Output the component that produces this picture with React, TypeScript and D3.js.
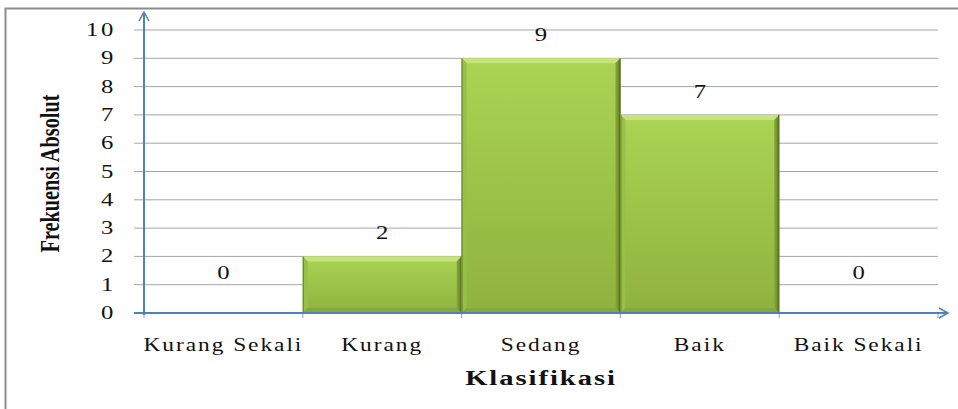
import React from 'react'
import * as d3 from 'd3'

const categories = ['Kurang Sekali', 'Kurang', 'Sedang', 'Baik', 'Baik Sekali']
const frequencies = [0, 2, 9, 7, 0]
const yTicks = [0, 1, 2, 3, 4, 5, 6, 7, 8, 9, 10]

const W = 958
const H = 409
const margin = { left: 144, right: 20, top: 30, bottom: 96 }
const serif = '"Liberation Serif", "Times New Roman", serif'

// stretched text, like the reference picture (it was widened)
function SText(props: { x: number; y: number; sx?: number; anchor?: string; size: number; bold?: boolean; ls?: number; children: React.ReactNode }) {
    const sx = props.sx ?? 1.3
    return (
        <text transform={`translate(${props.x}, ${props.y}) scale(${sx}, 1)`} textAnchor={props.anchor ?? 'middle'}
            fontFamily={serif} fontSize={props.size} fontWeight={props.bold ? 'bold' : 'normal'}
            letterSpacing={props.ls ?? 0} fill="#111">{props.children}</text>
    )
}

export default function App() {
    const x = d3.scaleBand<string>()
        .domain(categories)
        .range([margin.left, W - margin.right])
        .padding(0)

    const y = d3.scaleLinear()
        .domain([0, 10])
        .range([H - margin.bottom, margin.top])

    const x0 = margin.left
    const x1 = W - margin.right
    const y0 = y(0)
    const bev = 5

    return (
        <svg width={W} height={H} style={{ position: 'absolute', left: 0, top: 0, background: '#fff' }}>
            <defs>
                <linearGradient id="barFill" x1="0" y1="0" x2="0" y2="1">
                    <stop offset="0%" stopColor="#aad453" />
                    <stop offset="100%" stopColor="#8fb23f" />
                </linearGradient>
                <linearGradient id="rightEdge" x1="0" y1="0" x2="1" y2="0">
                    <stop offset="0%" stopColor="#88aa3a" />
                    <stop offset="100%" stopColor="#5f7b24" />
                </linearGradient>
                <marker id="arrow" viewBox="0 0 12 12" refX="10" refY="6" markerWidth="12" markerHeight="12" orient="auto" markerUnits="userSpaceOnUse">
                    <path d="M1,1 L10,6 L1,11" fill="none" stroke="#4f81bd" strokeWidth={1.5} />
                </marker>
            </defs>

            {/* outer frame */}
            <rect x={5.5} y={8.5} width={W + 10} height={H + 10} fill="none" stroke="#8c8c8c" strokeWidth={2} />

            {/* gridlines */}
            {yTicks.filter(t => t > 0).map(t => (
                <line key={t} x1={x0 - 10} x2={x1} y1={y(t)} y2={y(t)} stroke="#a6a6a6" strokeWidth={1} />
            ))}

            {/* bars */}
            {frequencies.map((v, i) => {
                if (v <= 0) return null
                const bx = x(categories[i])!
                const bw = x.bandwidth()
                const by = y(v)
                const bh = y0 - by
                return (
                    <g key={categories[i]}>
                        <rect x={bx} y={by} width={bw} height={bh} fill="url(#barFill)" />
                        <polygon points={`${bx},${by} ${bx + bw},${by} ${bx + bw - bev},${by + bev} ${bx + bev},${by + bev}`} fill="#c6e37e" />
                        <polygon points={`${bx},${by} ${bx + bev},${by + bev} ${bx + bev},${y0 - bev} ${bx},${y0}`} fill="#98bf48" />
                        <polygon points={`${bx + bw},${by} ${bx + bw - bev},${by + bev} ${bx + bw - bev},${y0 - bev} ${bx + bw},${y0}`} fill="url(#rightEdge)" />
                        <polygon points={`${bx},${y0} ${bx + bev},${y0 - bev} ${bx + bw - bev},${y0 - bev} ${bx + bw},${y0}`} fill="#86a73a" />
                        <line x1={bx + 0.5} x2={bx + 0.5} y1={by} y2={y0} stroke="#6d8b2b" strokeWidth={1.2} />
                        <line x1={bx + bw - 0.5} x2={bx + bw - 0.5} y1={by} y2={y0} stroke="#566f1f" strokeWidth={1.2} />
                    </g>
                )
            })}

            {/* value labels */}
            {frequencies.map((v, i) => (
                <SText key={i} x={x(categories[i])! + x.bandwidth() / 2} y={y(v) - (v === 0 ? 34 : 17)} size={19}>{v}</SText>
            ))}

            {/* y tick labels */}
            {yTicks.map(t => (
                <SText key={t} x={x0 - 28} y={y(t) + 6} anchor="end" size={19} ls={2}>{t}</SText>
            ))}

            {/* x ticks */}
            {categories.concat(['end']).map((c, i) => {
                const tx = i < categories.length ? x(c)! : x1
                return <line key={c} x1={tx} x2={tx} y1={y0} y2={y0 + 5} stroke="#8aa6c8" strokeWidth={1} />
            })}

            {/* axes */}
            <line x1={x0 - 10} x2={x0} y1={y0} y2={y0} stroke="#4f81bd" strokeWidth={2} />
            <line x1={x0} x2={x0} y1={y0 + 2} y2={12} stroke="#4f81bd" strokeWidth={2} markerEnd="url(#arrow)" />
            <line x1={x0} x2={948} y1={y0} y2={y0} stroke="#4f81bd" strokeWidth={2} markerEnd="url(#arrow)" />

            {/* category labels */}
            {categories.map(c => (
                <SText key={c} x={x(c)! + x.bandwidth() / 2} y={y0 + 38} size={18} sx={1.3} ls={1.5}>{c}</SText>
            ))}

            {/* axis titles */}
            <SText x={(x0 + x1) / 2} y={y0 + 72} size={22} bold sx={1.3} ls={1.5}>Klasifikasi</SText>
            <text transform={`translate(59, ${(y(10) + y0) / 2 + 2}) rotate(-90)`} textAnchor="middle"
                fontFamily={serif} fontSize={27} fontWeight="bold" fill="#111"
                textLength={158} lengthAdjust="spacingAndGlyphs">Frekuensi Absolut</text>
        </svg>
    )
}
